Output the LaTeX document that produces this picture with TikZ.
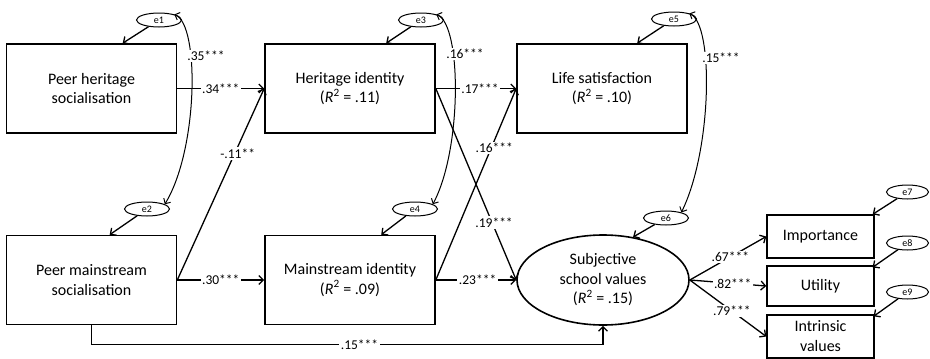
\documentclass[tikz,border=0pt]{standalone}
\usepackage{fontspec}
\setmainfont{Carlito}
\usetikzlibrary{arrows.meta,shapes.geometric,calc}
\begin{document}
\begin{tikzpicture}[x=1pt,y=-1pt,
  obs/.style={draw,line width=1.6pt,minimum width=170pt,minimum height=89pt,align=center,inner sep=0pt,font=\fontsize{16}{19.5}\selectfont},
  ind/.style={draw,line width=1.4pt,minimum width=107pt,align=center,inner sep=0pt,font=\fontsize{16}{20}\selectfont},
  lat/.style={ellipse,draw,line width=1.6pt,minimum width=172pt,minimum height=90pt,align=center,inner sep=0pt,font=\fontsize{16}{19.5}\selectfont},
  err/.style={ellipse,draw,line width=1pt,minimum width=45pt,minimum height=14pt,inner sep=0pt,font=\fontsize{10}{10}\selectfont},
  arr/.style={line width=1.3pt,-{Straight Barb[length=4.5pt,width=9pt]}},
  cov/.style={line width=1pt,{Straight Barb[length=4pt,width=8pt]}-{Straight Barb[length=4pt,width=8pt]}},
  lab/.style={fill=white,inner sep=1.5pt,font=\fontsize{13.5}{13.5}\selectfont}
]
\fill[white] (0,0) rectangle (930,359);
\useasboundingbox (0,0) rectangle (930,359);

% observed / latent variables
\node[obs] (ph) at (91.5,88.5) {Peer heritage\\socialisation};
\node[obs] (hi) at (350,88.5) {Heritage identity\\(\textit{R}\textsuperscript{2} = .11)};
\node[obs] (ls) at (602,88.5) {Life satisfaction\\(\textit{R}\textsuperscript{2} = .10)};
\node[obs] (pm) at (91.5,280) {Peer mainstream\\socialisation};
\node[obs] (mi) at (350,280) {Mainstream identity\\(\textit{R}\textsuperscript{2} = .09)};
\node[lat] (sv) at (603,280) {Subjective\\school values\\(\textit{R}\textsuperscript{2} = .15)};
\node[ind,minimum height=43pt] (imp) at (820.5,236.5) {Importance};
\node[ind,minimum height=40pt] (ut) at (820.5,286) {Utility};
\node[ind,minimum height=43pt] (iv) at (820.5,336.5) {Intrinsic\\values};

% error terms
\node[err] (e1) at (159,20) {e1};
\node[err] (e2) at (147,209) {e2};
\node[err] (e3) at (421,20) {e3};
\node[err] (e4) at (415,209) {e4};
\node[err] (e5) at (674,19) {e5};
\node[err] (e6) at (666,218) {e6};
\node[err,minimum width=42pt] (e7) at (907.5,192) {e7};
\node[err,minimum width=42pt] (e8) at (907.5,243) {e8};
\node[err,minimum width=42pt] (e9) at (907.5,292) {e9};

% error arrows
\draw[arr] (e1) -- ([xshift=117pt]ph.north west);
\draw[arr] (e2) -- ([xshift=104pt]pm.north west);
\draw[arr] (e3) -- ([xshift=122pt]hi.north west);
\draw[arr] (e4) -- ([xshift=117pt]mi.north west);
\draw[arr] (e5) -- ([xshift=121pt]ls.north west);
\draw[arr] (e6) -- (sv.55);
\draw[arr] (e7) -- ([xshift=-2pt]imp.north east);
\draw[arr] (e8) -- ([shift={(-2pt,-2pt)}]ut.north east);
\draw[arr] (e9) -- ([shift={(-1pt,-2pt)}]iv.north east);

% covariances
\draw[cov] (e1.20) .. controls (200,25) and (198,150) .. (e2.15);
\draw[cov] (e3.20) .. controls (462,25) and (462,150) .. (e4.15);
\draw[cov] (e5.20) .. controls (714,25) and (712,150) .. (e6.20);
\node[lab] (l35) at (206,56) {.35***};
\node[lab] (l16c) at (465,54) {.16***};
\node[lab] (l15c) at (721,58) {.15***};

% structural paths
\draw[arr] (ph.east) -- node[lab]{.34***} (hi.west);
\draw[arr] (pm.east) -- node[lab,pos=0.66,xshift=3pt]{-.11**} (hi.west);
\draw[arr] (pm.east) -- node[lab]{.30***} (mi.west);
\draw[arr] (hi.east) -- node[lab,pos=0.55]{.17***} (ls.west);
\draw[arr] (mi.east) -- node[lab,pos=0.69,xshift=3pt]{.16***} (ls.west);
\draw[arr] (hi.east) -- node[lab,pos=0.70,xshift=2pt]{.19***} (sv.west);
\draw[arr] (mi.east) -- node[lab,pos=0.52]{.23***} (sv.west);
\draw[arr] (pm.south) -- ++(0,19) -| node[lab,pos=0.262]{.15***} (sv.south);

% measurement paths
\draw[arr] (sv.east) -- node[lab,pos=0.53]{.67***} (imp.west);
\draw[arr] (sv.east) -- node[lab,pos=0.56]{.82***} (ut.west);
\draw[arr] (sv.east) -- node[lab,pos=0.55]{.79***} (iv.west);
\end{tikzpicture}
\end{document}
